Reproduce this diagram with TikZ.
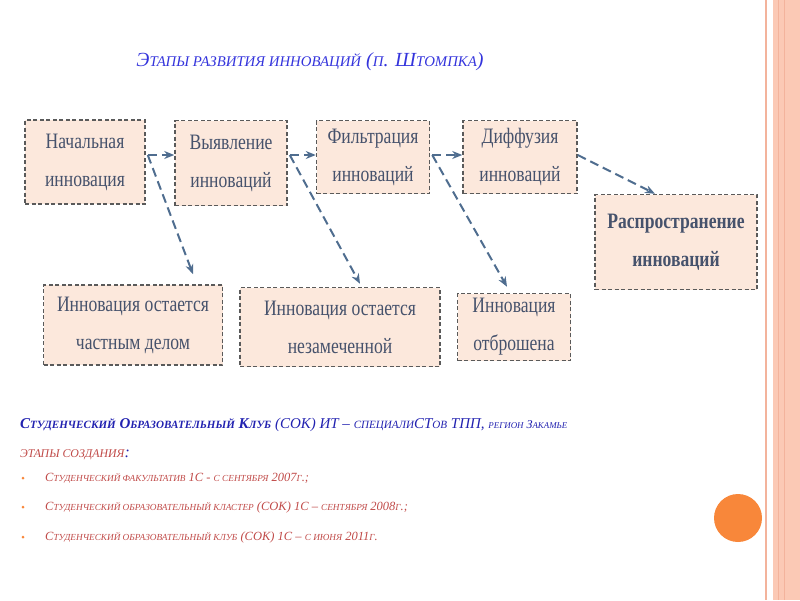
\documentclass[tikz,border=0pt]{standalone}
\usepackage{fontspec}
\setmainfont{Liberation Serif}
\newfontfamily\boxfont[FakeStretch=0.8]{Liberation Serif}
\usepackage{tikz}
\usetikzlibrary{arrows.meta}

\definecolor{boxfill}{HTML}{FCE8DC}
\definecolor{boxline}{HTML}{5A5A5A}
\definecolor{boxtext}{HTML}{46526C}
\definecolor{linkblue}{HTML}{4F6D8F}
\definecolor{titleblue}{HTML}{3434DC}
\definecolor{clubblue}{HTML}{2222B0}
\definecolor{stepred}{HTML}{C04A48}
\definecolor{peach}{HTML}{FBC9B5}
\definecolor{peachline}{HTML}{F3B39C}
\definecolor{dotorange}{HTML}{F8873A}

\newcommand\sm[1]{\scalebox{.74}{\MakeUppercase{#1}}}

\begin{document}
\begin{tikzpicture}[x=1pt, y=-1pt,
  stage/.style={rectangle, draw=boxline, fill=boxfill, line width=1.5pt, dash pattern=on 4pt off 2.5pt, text=boxtext, align=center, inner sep=0pt, font=\boxfont\fontsize{22}{38}\selectfont},
  link/.style={draw=linkblue, line width=2pt, dash pattern=on 9pt off 5pt, -{Stealth[length=10pt,width=8pt]}},
  note/.style={anchor=west, inner sep=0pt, font=\itshape}]
\useasboundingbox (0,0) rectangle (800,600);

\fill[peach] (773,0) rectangle (800,600);
\draw[peachline, line width=1pt] (778,0) -- (778,600);
\draw[peachline, line width=1pt] (784,0) -- (784,600);
\draw[peachline, line width=2pt] (766,0) -- (766,600);
\fill[dotorange] (738,518) circle (24);

\node [note, anchor=center, text=titleblue, font=\itshape\fontsize{20}{24}\selectfont] (title) at (310,62) {Э\sm{тапы развития инноваций} (\sm{п}. Ш\sm{томпка})};

\node [stage, minimum width=120pt, minimum height=84pt] (start) at (85,162) {Начальная\\инновация};
\node [stage, minimum width=112pt, minimum height=85pt] (detect) at (231,163) {Выявление\\инноваций};
\node [stage, minimum width=113pt, minimum height=73pt] (filter) at (373,157) {Фильтрация\\инноваций};
\node [stage, minimum width=114pt, minimum height=73pt] (diffuse) at (520,157) {Диффузия\\инноваций};
\node [stage, minimum width=162pt, minimum height=95pt, font=\boxfont\bfseries\fontsize{22}{38}\selectfont] (spread) at (676,242) {Распространение\\инноваций};
\node [stage, minimum width=179pt, minimum height=80pt] (private) at (133,325) {Инновация остается\\частным делом};
\node [stage, minimum width=200pt, minimum height=79pt] (unnoticed) at (340,327) {Инновация остается\\незамеченной};
\node [stage, minimum width=113pt, minimum height=67pt] (rejected) at (514,327) {Инновация\\отброшена};

\coordinate (o1) at ([shift={(2pt,7pt)}]start.east);
\coordinate (o2) at ([shift={(2pt,8pt)}]detect.east);
\coordinate (o3) at ([shift={(2pt,2pt)}]filter.east);
\coordinate (o4) at ([yshift=2pt]diffuse.east);

\draw [link] (o1) -- (o1 -| detect.west);
\draw [link] (o1) -- ([shift={(60pt,10pt)}]private.north);
\draw [link] (o2) -- (o2 -| filter.west);
\draw [link] (o2) -- ([shift={(20pt,3pt)}]unnoticed.north);
\draw [link] (o3) -- (o3 -| diffuse.west);
\draw [link] (o3) -- ([shift={(-7pt,6pt)}]rejected.north);
\draw [link] (o4) -- ([xshift=-21pt]spread.north);

\node [note, text=clubblue, font=\itshape\fontsize{15}{18}\selectfont] (club) at (20,425) {{\bfseries С\sm{туденческий} О\sm{бразовательный} К\sm{луб}} (СОК) ИТ -- \sm{специали}СТ\sm{ов} ТПП, {\fontsize{12}{14}\selectfont\sm{регион} З\sm{акамье}}};
\node [note, text=stepred, font=\itshape\fontsize{16}{18}\selectfont] (stages) at (20,455) {\sm{этапы создания}\textcolor{clubblue}{:}};
\node [note, text=stepred, font=\itshape\fontsize{12.5}{16}\selectfont] (step1) at (45,478) {С\sm{туденческий факультатив} 1С - \sm{с сентября} 2007\sm{г}.;};
\node [note, text=stepred, font=\itshape\fontsize{12.5}{16}\selectfont] (step2) at (45,507) {С\sm{туденческий образовательный кластер} (СОК) 1С -- \sm{сентября} 2008\sm{г}.;};
\node [note, text=stepred, font=\itshape\fontsize{12.5}{16}\selectfont] (step3) at (45,537) {С\sm{туденческий образовательный клуб} (СОК) 1С -- \sm{с июня} 2011\sm{г}.};
\fill[dotorange] (23,478) circle (1.5);
\fill[dotorange] (23,507) circle (1.5);
\fill[dotorange] (23,537) circle (1.5);
\end{tikzpicture}
\end{document}
